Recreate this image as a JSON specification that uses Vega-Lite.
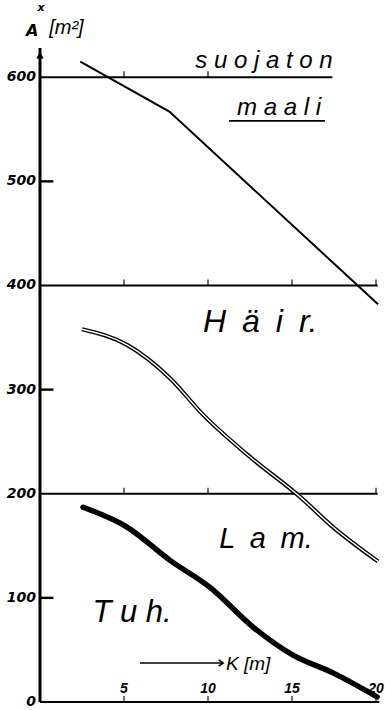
{
  "$schema": "https://vega.github.io/schema/vega-lite/v6.json",
  "width": 336,
  "height": 656,
  "autosize": {"type": "none"},
  "padding": {"left": 40, "top": 46, "right": 9, "bottom": 8},
  "background": "white",
  "config": {"view": {"stroke": null}},
  "data": {"values": [{"one": 1}]},
  "datasets": {
    "curves": [
      {"series": "suojaton", "K": 2.4, "A": 615},
      {"series": "suojaton", "K": 7.7, "A": 567},
      {"series": "suojaton", "K": 20.12, "A": 382},
      {"series": "hair", "K": 2.5, "A": 358},
      {"series": "hair", "K": 5.18, "A": 343},
      {"series": "hair", "K": 7.74, "A": 311},
      {"series": "hair", "K": 9.7, "A": 276},
      {"series": "hair", "K": 12.38, "A": 237},
      {"series": "hair", "K": 15.48, "A": 197},
      {"series": "hair", "K": 17.44, "A": 168},
      {"series": "hair", "K": 20.12, "A": 135},
      {"series": "tuh", "K": 2.56, "A": 187},
      {"series": "tuh", "K": 5.18, "A": 168},
      {"series": "tuh", "K": 7.74, "A": 136},
      {"series": "tuh", "K": 10.12, "A": 110},
      {"series": "tuh", "K": 12.68, "A": 72},
      {"series": "tuh", "K": 15.06, "A": 45},
      {"series": "tuh", "K": 17.44, "A": 28},
      {"series": "tuh", "K": 20.06, "A": 5}
    ],
    "levels": [
      {"level": 600, "start": 0, "end": 17.4},
      {"level": 400, "start": 0, "end": 20.1},
      {"level": 200, "start": 0, "end": 20.1},
      {"level": 0, "start": 0, "end": 20.2}
    ],
    "xticks": [
      {"k": 5, "level": 600}, {"k": 10, "level": 600},
      {"k": 5, "level": 400}, {"k": 10, "level": 400}, {"k": 15, "level": 400}, {"k": 20, "level": 400},
      {"k": 5, "level": 200}, {"k": 10, "level": 200}, {"k": 15, "level": 200}, {"k": 20, "level": 200},
      {"k": 5, "level": 0}, {"k": 10, "level": 0}, {"k": 15, "level": 0}, {"k": 20, "level": 0}
    ],
    "yticks": [{"a": 100}, {"a": 300}, {"a": 500}],
    "ylabels": [{"a": 0}, {"a": 100}, {"a": 200}, {"a": 300}, {"a": 400}, {"a": 500}, {"a": 600}],
    "xlabels": [{"k": 5, "t": "5"}, {"k": 10, "t": "10"}, {"k": 15, "t": "15"}, {"k": 20, "t": "20"}]
  },
  "layer": [
    {
      "data": {"name": "levels"},
      "mark": {"type": "rule", "color": "black", "strokeWidth": 2.2},
      "encoding": {
        "x": {"field": "start", "type": "quantitative", "scale": {"domain": [0, 20], "nice": false, "zero": false}, "axis": null},
        "x2": {"field": "end"},
        "y": {"field": "level", "type": "quantitative", "scale": {"domain": [0, 630], "nice": false, "zero": false}, "axis": null}
      }
    },
    {
      "mark": {"type": "rule", "color": "black", "strokeWidth": 3},
      "encoding": {
        "x": {"datum": 0, "type": "quantitative", "scale": {"domain": [0, 20], "nice": false, "zero": false}, "axis": null},
        "y": {"datum": 0, "type": "quantitative", "scale": {"domain": [0, 630], "nice": false, "zero": false}, "axis": null},
        "y2": {"datum": 628}
      }
    },
    {
      "data": {"name": "ylabels"},
      "mark": {"type": "text", "color": "black", "font": "DejaVu Sans", "fontSize": 14, "fontWeight": "bold", "fontStyle": "italic", "align": "right", "baseline": "middle", "xOffset": -4},
      "encoding": {
        "x": {"datum": 0, "type": "quantitative", "scale": {"domain": [0, 20], "nice": false, "zero": false}, "axis": null},
        "y": {"field": "a", "type": "quantitative", "scale": {"domain": [0, 630], "nice": false, "zero": false}, "axis": null},
        "text": {"field": "a", "type": "nominal"}
      }
    },
    {
      "data": {"name": "xticks"},
      "mark": {"type": "tick", "orient": "vertical", "color": "black", "size": 6, "thickness": 1.6, "yOffset": -3},
      "encoding": {
        "x": {"field": "k", "type": "quantitative", "scale": {"domain": [0, 20], "nice": false, "zero": false}, "axis": null},
        "y": {"field": "level", "type": "quantitative", "scale": {"domain": [0, 630], "nice": false, "zero": false}, "axis": null}
      }
    },
    {
      "data": {"name": "yticks"},
      "mark": {"type": "rule", "color": "black", "strokeWidth": 2.4},
      "encoding": {
        "x": {"datum": 0, "type": "quantitative", "scale": {"domain": [0, 20], "nice": false, "zero": false}, "axis": null},
        "x2": {"datum": 0.8},
        "y": {"field": "a", "type": "quantitative", "scale": {"domain": [0, 630], "nice": false, "zero": false}, "axis": null}
      }
    },
    {
      "data": {"name": "xlabels"},
      "mark": {"type": "text", "color": "black", "font": "Liberation Sans", "fontSize": 14, "fontWeight": "bold", "fontStyle": "italic", "align": "center", "baseline": "alphabetic"},
      "encoding": {
        "x": {"field": "k", "type": "quantitative", "scale": {"domain": [0, 20], "nice": false, "zero": false}, "axis": null},
        "y": {"datum": 8.6, "type": "quantitative", "scale": {"domain": [0, 630], "nice": false, "zero": false}, "axis": null},
        "text": {"field": "t", "type": "nominal"}
      }
    },
    {
      "data": {"name": "curves"},
      "transform": [{"filter": "datum.series === 'suojaton'"}],
      "mark": {"type": "line", "color": "black", "strokeWidth": 2},
      "encoding": {
        "x": {"field": "K", "type": "quantitative", "scale": {"domain": [0, 20], "nice": false, "zero": false}, "axis": null},
        "y": {"field": "A", "type": "quantitative", "scale": {"domain": [0, 630], "nice": false, "zero": false}, "axis": null}
      }
    },
    {
      "data": {"name": "curves"},
      "transform": [{"filter": "datum.series === 'hair'"}],
      "mark": {"type": "line", "color": "black", "strokeWidth": 4.2, "interpolate": "monotone"},
      "encoding": {
        "x": {"field": "K", "type": "quantitative", "scale": {"domain": [0, 20], "nice": false, "zero": false}, "axis": null},
        "y": {"field": "A", "type": "quantitative", "scale": {"domain": [0, 630], "nice": false, "zero": false}, "axis": null}
      }
    },
    {
      "data": {"name": "curves"},
      "transform": [{"filter": "datum.series === 'hair'"}],
      "mark": {"type": "line", "color": "white", "strokeWidth": 1.4, "interpolate": "monotone"},
      "encoding": {
        "x": {"field": "K", "type": "quantitative", "scale": {"domain": [0, 20], "nice": false, "zero": false}, "axis": null},
        "y": {"field": "A", "type": "quantitative", "scale": {"domain": [0, 630], "nice": false, "zero": false}, "axis": null}
      }
    },
    {
      "data": {"name": "curves"},
      "transform": [{"filter": "datum.series === 'tuh'"}],
      "mark": {"type": "line", "color": "black", "strokeWidth": 5.5, "interpolate": "monotone", "strokeCap": "round"},
      "encoding": {
        "x": {"field": "K", "type": "quantitative", "scale": {"domain": [0, 20], "nice": false, "zero": false}, "axis": null},
        "y": {"field": "A", "type": "quantitative", "scale": {"domain": [0, 630], "nice": false, "zero": false}, "axis": null}
      }
    },
    {"mark": {"type": "point", "shape": "triangle-up", "filled": true, "color": "black", "size": 55, "opacity": 1},
     "encoding": {"x": {"datum": 0, "type": "quantitative", "scale": {"domain": [0, 20], "nice": false, "zero": false}, "axis": null}, "y": {"datum": 621, "type": "quantitative", "scale": {"domain": [0, 630], "nice": false, "zero": false}, "axis": null}}},
    {"mark": {"type": "text", "text": "s u o j a t o n", "font": "Liberation Sans", "fontStyle": "italic", "fontSize": 24, "align": "center", "baseline": "alphabetic", "color": "black"},
     "encoding": {"x": {"datum": 13.33, "type": "quantitative", "scale": {"domain": [0, 20], "nice": false, "zero": false}, "axis": null}, "y": {"datum": 609, "type": "quantitative", "scale": {"domain": [0, 630], "nice": false, "zero": false}, "axis": null}}},
    {"mark": {"type": "text", "text": "m a a l i", "font": "Liberation Sans", "fontStyle": "italic", "fontSize": 24, "align": "center", "baseline": "alphabetic", "color": "black"},
     "encoding": {"x": {"datum": 14.23, "type": "quantitative", "scale": {"domain": [0, 20], "nice": false, "zero": false}, "axis": null}, "y": {"datum": 564, "type": "quantitative", "scale": {"domain": [0, 630], "nice": false, "zero": false}, "axis": null}}},
    {"mark": {"type": "rule", "color": "black", "strokeWidth": 1.8},
     "encoding": {"x": {"datum": 11.25, "type": "quantitative", "scale": {"domain": [0, 20], "nice": false, "zero": false}, "axis": null}, "x2": {"datum": 16.96}, "y": {"datum": 558, "type": "quantitative", "scale": {"domain": [0, 630], "nice": false, "zero": false}, "axis": null}}},
    {"mark": {"type": "text", "text": "H\u2002ä\u2002i\u2002r.", "font": "Liberation Sans", "fontStyle": "italic", "fontSize": 32, "align": "center", "baseline": "alphabetic", "color": "black"},
     "encoding": {"x": {"datum": 13.1, "type": "quantitative", "scale": {"domain": [0, 20], "nice": false, "zero": false}, "axis": null}, "y": {"datum": 355, "type": "quantitative", "scale": {"domain": [0, 630], "nice": false, "zero": false}, "axis": null}}},
    {"mark": {"type": "text", "text": "L\u2002a\u2002m.", "font": "Liberation Sans", "fontStyle": "italic", "fontSize": 29, "align": "center", "baseline": "alphabetic", "color": "black"},
     "encoding": {"x": {"datum": 13.45, "type": "quantitative", "scale": {"domain": [0, 20], "nice": false, "zero": false}, "axis": null}, "y": {"datum": 148, "type": "quantitative", "scale": {"domain": [0, 630], "nice": false, "zero": false}, "axis": null}}},
    {"mark": {"type": "text", "text": "T u h.", "font": "Liberation Sans", "fontStyle": "italic", "fontSize": 31, "align": "center", "baseline": "alphabetic", "color": "black"},
     "encoding": {"x": {"datum": 5.48, "type": "quantitative", "scale": {"domain": [0, 20], "nice": false, "zero": false}, "axis": null}, "y": {"datum": 77, "type": "quantitative", "scale": {"domain": [0, 630], "nice": false, "zero": false}, "axis": null}}},
    {"mark": {"type": "rule", "color": "black", "strokeWidth": 1.6},
     "encoding": {"x": {"datum": 5.95, "type": "quantitative", "scale": {"domain": [0, 20], "nice": false, "zero": false}, "axis": null}, "x2": {"datum": 10.9}, "y": {"datum": 37.5, "type": "quantitative", "scale": {"domain": [0, 630], "nice": false, "zero": false}, "axis": null}}},
    {"mark": {"type": "point", "shape": "M -1 -0.7 L 0 0 L -1 0.7", "filled": false, "color": "black", "strokeWidth": 1.6, "size": 80, "opacity": 1},
     "encoding": {"x": {"datum": 10.9, "type": "quantitative", "scale": {"domain": [0, 20], "nice": false, "zero": false}, "axis": null}, "y": {"datum": 37.5, "type": "quantitative", "scale": {"domain": [0, 630], "nice": false, "zero": false}, "axis": null}}},
    {"mark": {"type": "text", "text": "K [m]", "font": "Liberation Sans", "fontStyle": "italic", "fontSize": 19, "align": "left", "baseline": "alphabetic", "color": "black"},
     "encoding": {"x": {"datum": 11.07, "type": "quantitative", "scale": {"domain": [0, 20], "nice": false, "zero": false}, "axis": null}, "y": {"datum": 31, "type": "quantitative", "scale": {"domain": [0, 630], "nice": false, "zero": false}, "axis": null}}},
    {"mark": {"type": "text", "text": "A", "font": "DejaVu Sans", "fontStyle": "italic", "fontWeight": "bold", "fontSize": 16, "align": "left", "baseline": "alphabetic", "color": "black"},
     "encoding": {"x": {"datum": -0.83, "type": "quantitative", "scale": {"domain": [0, 20], "nice": false, "zero": false}, "axis": null}, "y": {"datum": 639.5, "type": "quantitative", "scale": {"domain": [0, 630], "nice": false, "zero": false}, "axis": null}}},
    {"mark": {"type": "text", "text": "x", "font": "DejaVu Sans", "fontStyle": "italic", "fontWeight": "bold", "fontSize": 11, "align": "left", "baseline": "alphabetic", "color": "black"},
     "encoding": {"x": {"datum": -0.15, "type": "quantitative", "scale": {"domain": [0, 20], "nice": false, "zero": false}, "axis": null}, "y": {"datum": 664, "type": "quantitative", "scale": {"domain": [0, 630], "nice": false, "zero": false}, "axis": null}}},
    {"mark": {"type": "text", "text": "[m²]", "font": "Liberation Sans", "fontStyle": "italic", "fontSize": 20, "align": "left", "baseline": "alphabetic", "color": "black"},
     "encoding": {"x": {"datum": 0.55, "type": "quantitative", "scale": {"domain": [0, 20], "nice": false, "zero": false}, "axis": null}, "y": {"datum": 642, "type": "quantitative", "scale": {"domain": [0, 630], "nice": false, "zero": false}, "axis": null}}}
  ]
}
